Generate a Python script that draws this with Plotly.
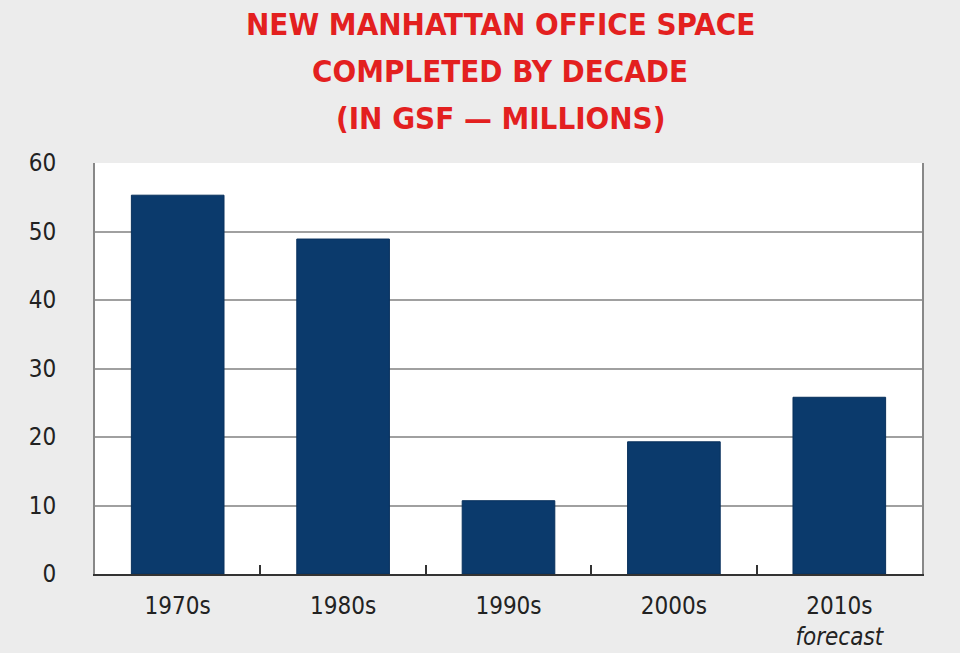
import plotly.graph_objects as go

# values (GSF, millions)
decades = ["1970s", "1980s", "1990s", "2000s", "2010s"]
tick_labels = ["1970s", "1980s", "1990s", "2000s", "2010s<br><i>forecast</i>"]
office_space = [55.3, 48.9, 10.7, 19.3, 25.8]
title_lines = ["NEW MANHATTAN OFFICE SPACE", "COMPLETED BY DECADE", "(IN GSF — MILLIONS)"]

navy = "#0b3a6c"
font_narrow = "Liberation Sans Narrow, DejaVu Sans Condensed, Arial Narrow, sans-serif"

W, H = 960, 653
mt, mb = 163, 79
plot_h = H - mt - mb

fig = go.Figure()
fig.add_trace(go.Bar(
    x=decades, y=office_space,
    marker=dict(color=navy, line=dict(color="#08305c", width=1)),
    hoverinfo="x+y",
))

fig.update_layout(
    width=W, height=H,
    paper_bgcolor="#ececec", plot_bgcolor="white",
    margin=dict(l=95, r=38, t=mt, b=mb, autoexpand=False),
    bargap=0.44,
    showlegend=False,
    font=dict(family=font_narrow, size=24, color="#222"),
)

# title: one annotation per line so the line spacing matches
for i, line in enumerate(title_lines):
    fig.add_annotation(
        text=line, xref="paper", yref="paper",
        x=0.49, y=(H - mb - (24 + 47 * i)) / plot_h, xanchor="center", yanchor="middle",
        showarrow=False,
        font=dict(family=font_narrow, size=31, color="#e3201f", weight="bold"),
    )

fig.update_xaxes(
    tickvals=decades, ticktext=tick_labels,
    tickson="boundaries", ticks="inside", ticklen=9, tickwidth=1.5, tickcolor="#333",
    showline=True, linecolor="#333", linewidth=2,
    showgrid=False, ticklabelstandoff=9, automargin=False,
)
fig.update_yaxes(
    range=[0, 60], dtick=10,
    showgrid=True, gridcolor="#a0a0a0", gridwidth=2,
    showline=True, linecolor="#888", linewidth=2, mirror=True,
    zeroline=False, ticks="", ticklabelstandoff=32, automargin=False,
)

fig.write_html("out.html", config={"displayModeBar": False},
               post_script="document.body.style.margin='0';")
